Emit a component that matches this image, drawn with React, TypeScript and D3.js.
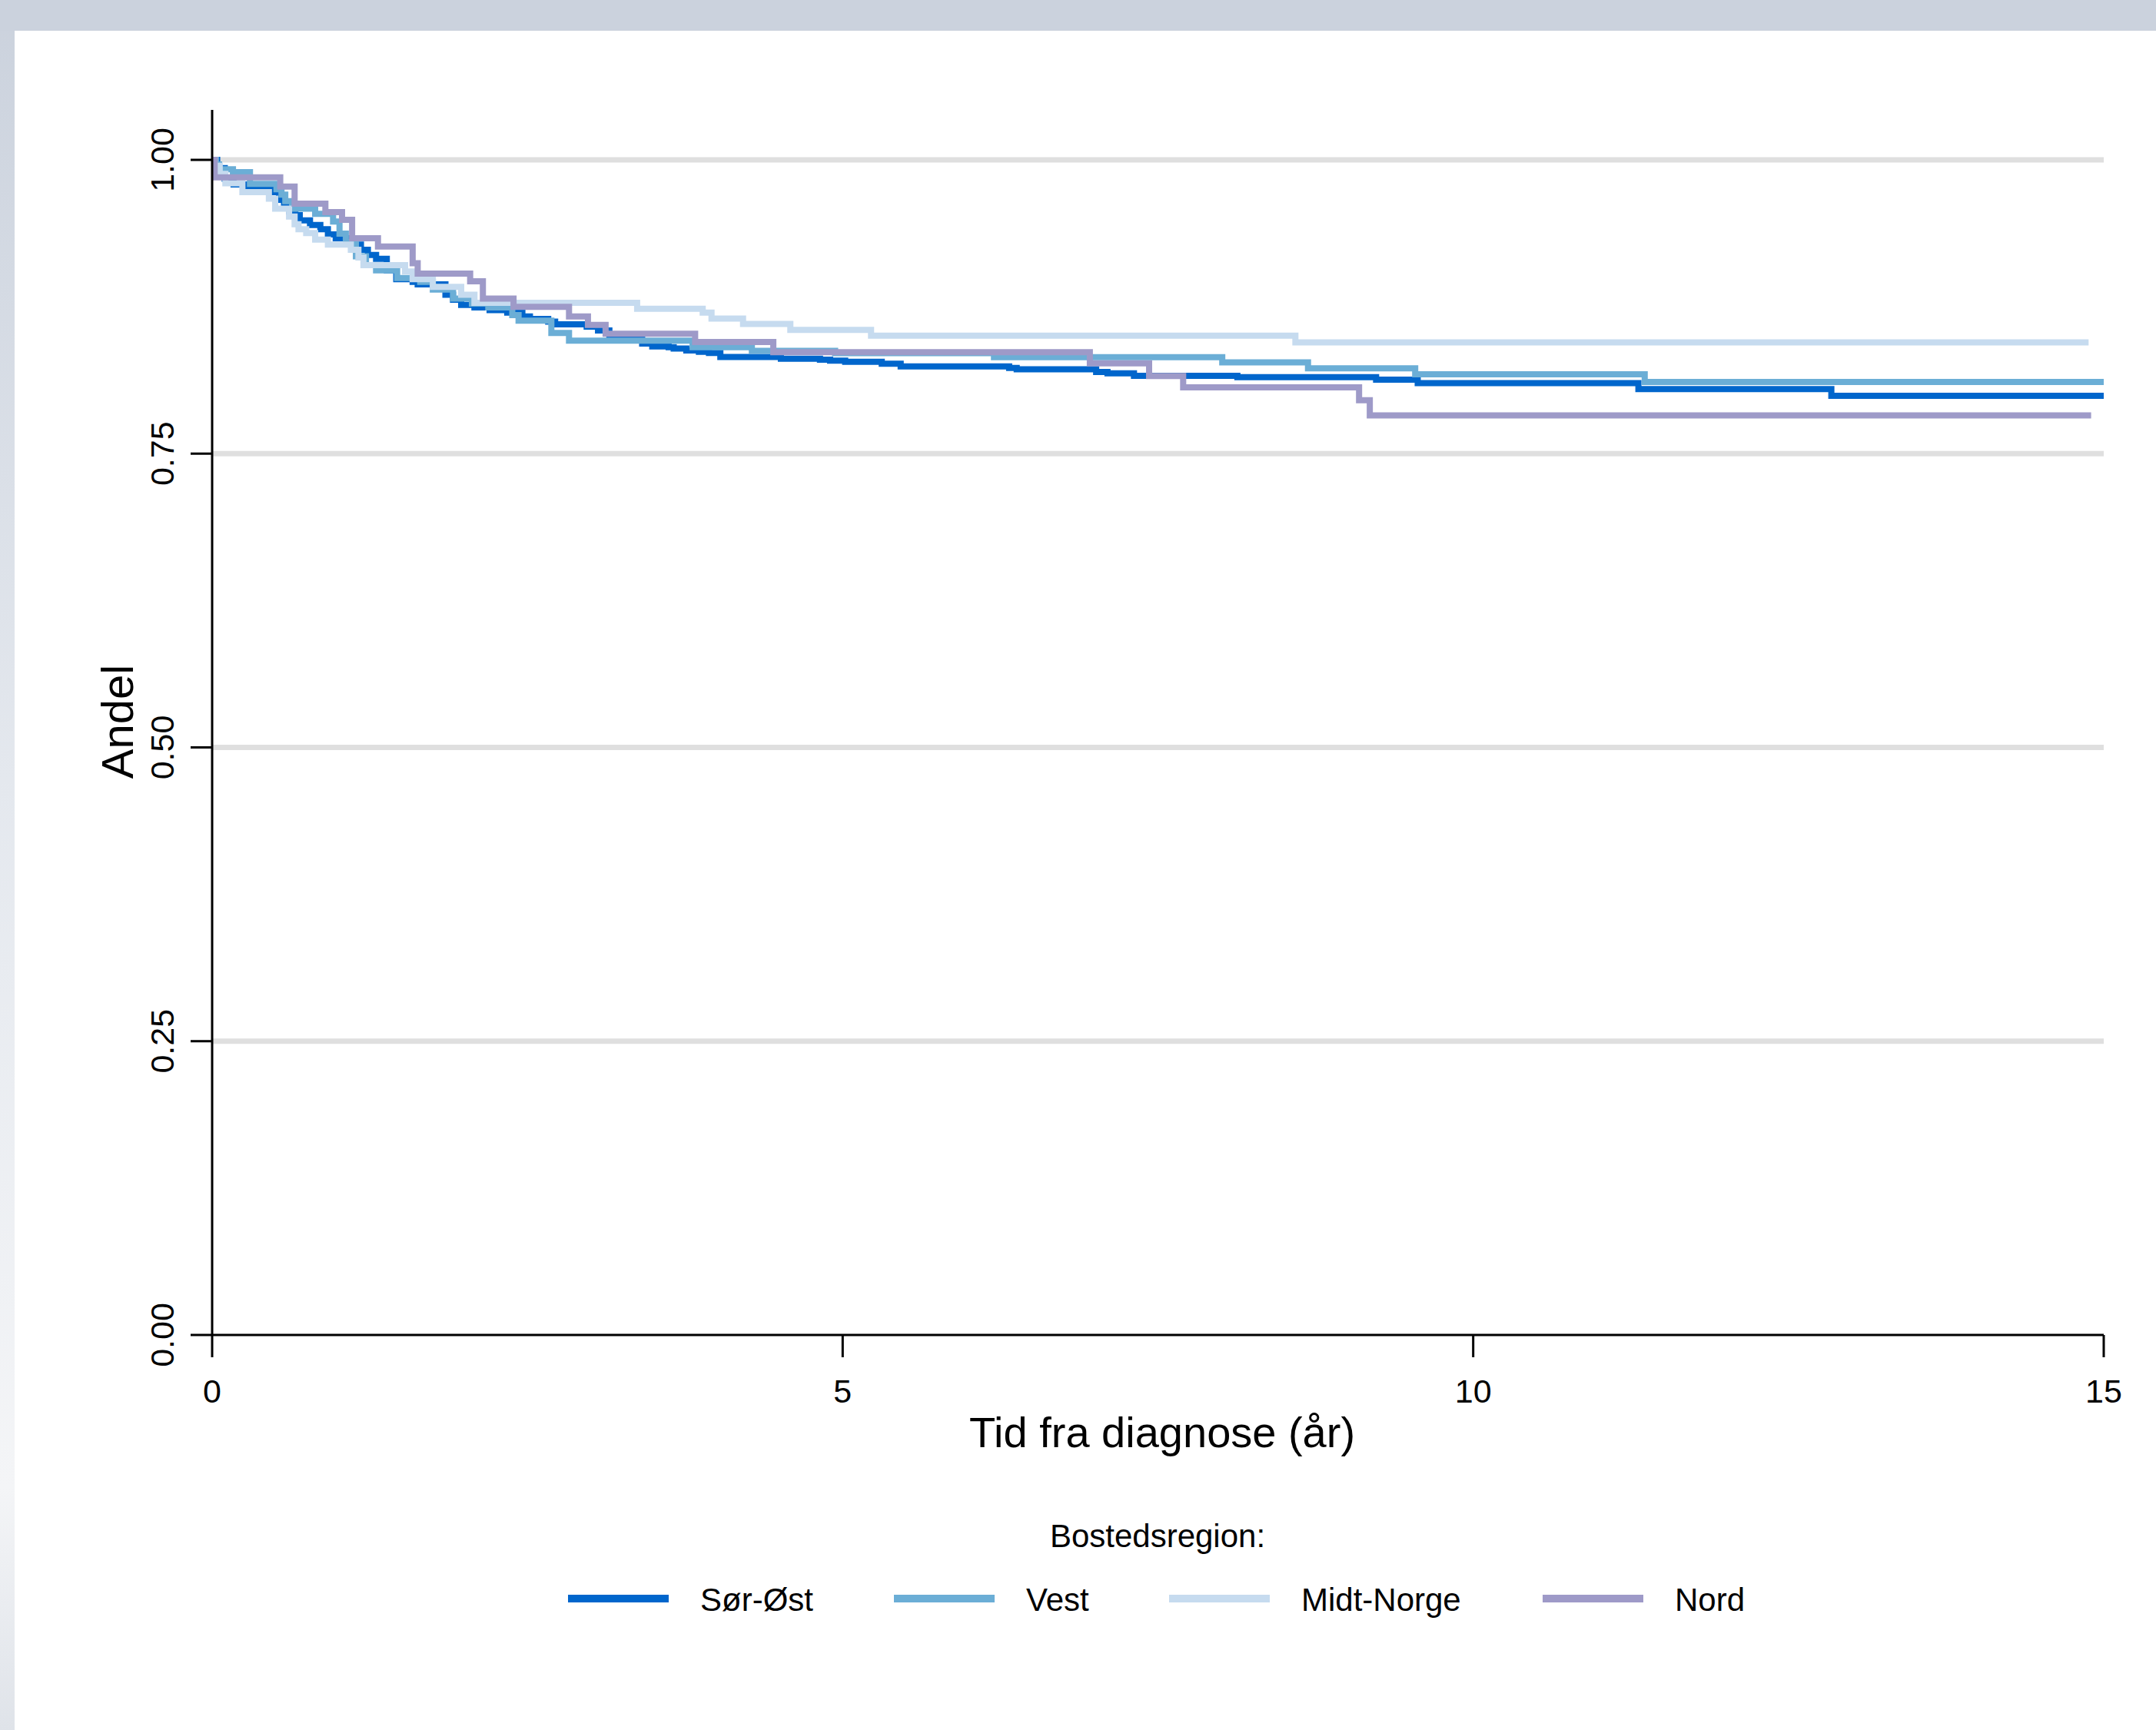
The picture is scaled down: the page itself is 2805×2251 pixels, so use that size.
import React from "react";
import * as d3 from "d3";

// ---------- data ----------
const seriesNames = ["Sør-Øst", "Vest", "Midt-Norge", "Nord"];
const seriesColors = ["#0066CC", "#6BAED6", "#C6DBEF", "#9E9AC8"];

const sorOstTime = [0, 0.04, 0.10, 0.17, 0.26, 0.47, 0.53, 0.57, 0.61, 0.66, 0.695, 0.776, 0.858, 0.918, 0.98, 1.13, 1.18, 1.235, 1.30, 1.385, 1.46, 1.59, 1.63, 1.85, 1.91, 1.975, 2.08, 2.20, 2.34, 2.46, 2.52, 2.665, 2.72, 2.97, 3.06, 3.15, 3.41, 3.49, 3.62, 3.66, 3.76, 3.86, 3.94, 4.03, 4.51, 4.82, 4.90, 5.02, 5.31, 5.46, 6.32, 6.38, 7.01, 7.10, 7.31, 8.13, 9.23, 9.56, 11.31, 12.84, 15];
const sorOstSurv = [1, 0.993, 0.984, 0.979, 0.9765, 0.9725, 0.966, 0.9616, 0.956, 0.9529, 0.9485, 0.9446, 0.941, 0.9366, 0.9333, 0.9279, 0.9235, 0.9191, 0.9158, 0.906, 0.8984, 0.8962, 0.894, 0.8853, 0.881, 0.8766, 0.8744, 0.8722, 0.870, 0.8668, 0.8646, 0.8624, 0.860, 0.858, 0.8548, 0.848, 0.8437, 0.8413, 0.8406, 0.8395, 0.8378, 0.8367, 0.8356, 0.8323, 0.8308, 0.830, 0.8291, 0.8282, 0.8265, 0.8243, 0.823, 0.8217, 0.8195, 0.8184, 0.8162, 0.8151, 0.8129, 0.810, 0.805, 0.7992, 0.7992];

const vestTime = [0, 0.03, 0.055, 0.165, 0.30, 0.51, 0.55, 0.58, 0.634, 0.817, 0.959, 1.01, 1.06, 1.14, 1.22, 1.30, 1.467, 1.65, 1.75, 1.91, 2.06, 2.19, 2.38, 2.43, 2.69, 2.83, 3.81, 4.28, 4.94, 6.20, 8.01, 8.69, 9.54, 11.36, 15];
const vestSurv = [1, 0.996, 0.992, 0.9895, 0.9795, 0.975, 0.9704, 0.9649, 0.9584, 0.954, 0.9475, 0.9372, 0.930, 0.918, 0.9104, 0.906, 0.8995, 0.8962, 0.8897, 0.882, 0.8777, 0.8744, 0.8679, 0.8631, 0.8527, 0.8461, 0.8406, 0.8375, 0.8355, 0.832, 0.8276, 0.8226, 0.8175, 0.811, 0.811];

const midtTime = [0, 0.02, 0.06, 0.105, 0.24, 0.45, 0.50, 0.61, 0.654, 0.685, 0.746, 0.817, 0.918, 1.10, 1.16, 1.20, 1.53, 1.59, 1.75, 1.975, 2.08, 3.37, 3.89, 3.96, 4.21, 4.585, 5.225, 8.59, 14.88];
const midtSurv = [1, 0.995, 0.988, 0.980, 0.9725, 0.967, 0.9584, 0.9518, 0.9453, 0.941, 0.9377, 0.9322, 0.9279, 0.9235, 0.917, 0.9104, 0.905, 0.8984, 0.8919, 0.8853, 0.8784, 0.8733, 0.870, 0.865, 0.8603, 0.8553, 0.8504, 0.8446, 0.8446];

const nordTime = [0, 0.02, 0.54, 0.654, 0.898, 1.03, 1.11, 1.315, 1.59, 1.63, 2.046, 2.147, 2.39, 2.83, 2.98, 3.12, 3.83, 4.45, 6.96, 7.43, 7.70, 9.095, 9.18, 14.90];
const nordSurv = [1, 0.9852, 0.9773, 0.9627, 0.9555, 0.949, 0.9333, 0.9263, 0.912, 0.9032, 0.8967, 0.882, 0.8749, 0.8668, 0.8596, 0.852, 0.845, 0.8363, 0.8269, 0.816, 0.8064, 0.7955, 0.7826, 0.7826];

const xTicks = [0, 5, 10, 15];
const yTicks = [0, 0.25, 0.5, 0.75, 1.0];
const yTickLabels = ["0.00", "0.25", "0.50", "0.75", "1.00"];
const xTitle = "Tid fra diagnose (år)";
const yTitle = "Andel";
const legendTitle = "Bostedsregion:";

const seriesTimes = [sorOstTime, vestTime, midtTime, nordTime];
const seriesSurvs = [sorOstSurv, vestSurv, midtSurv, nordSurv];

// ---------- layout ----------
const W = 2805;
const H = 2251;
const FONT = "'Liberation Sans', Arial, Helvetica, sans-serif";

export default function App() {
  const x = d3.scaleLinear().domain([0, 15]).range([276, 2737]);
  const y = d3.scaleLinear().domain([0, 1]).range([1737, 208]);
  const yTop = y(1.0425);

  const line = d3
    .line<[number, number]>()
    .x((d) => x(d[0]))
    .y((d) => y(d[1]))
    .curve(d3.curveStepAfter);

  const legendSwatchX = [739, 1163, 1521, 2007];
  const legendY = 2080;

  return (
    <svg
      width={W}
      height={H}
      style={{ position: "absolute", left: 0, top: 0, display: "block" }}
      xmlns="http://www.w3.org/2000/svg"
    >
      <defs>
        <linearGradient id="leftStrip" x1="0" y1="0" x2="0" y2="1">
          <stop offset="0" stopColor="#CBD2DD" />
          <stop offset="0.45" stopColor="#E4E8EE" />
          <stop offset="0.86" stopColor="#F4F5F7" />
          <stop offset="1" stopColor="#DFE3E9" />
        </linearGradient>
      </defs>
      <rect x={0} y={0} width={W} height={H} fill="#FFFFFF" />
      <rect x={0} y={0} width={19} height={H} fill="url(#leftStrip)" />
      <rect x={0} y={0} width={W} height={40} fill="#CBD2DD" />

      {/* grid */}
      {yTicks
        .filter((v) => v > 0)
        .map((v) => (
          <line
            key={"g" + v}
            x1={x(0)}
            x2={x(15)}
            y1={y(v)}
            y2={y(v)}
            stroke="#DFDFDF"
            strokeWidth={7}
          />
        ))}

      {/* curves */}
      {seriesNames.map((name, i) => {
        const pts: [number, number][] = seriesTimes[i].map((t, j) => [t, seriesSurvs[i][j]]);
        return (
          <path
            key={name}
            d={line(pts) || ""}
            fill="none"
            stroke={seriesColors[i]}
            strokeWidth={8}
            strokeLinejoin="miter"
          />
        );
      })}

      {/* axes */}
      <line x1={x(0)} x2={x(0)} y1={yTop} y2={y(0)} stroke="#000" strokeWidth={3} />
      <line x1={x(0)} x2={x(15)} y1={y(0)} y2={y(0)} stroke="#000" strokeWidth={3} />
      {yTicks.map((v, i) => (
        <g key={"yt" + v}>
          <line x1={x(0) - 28} x2={x(0)} y1={y(v)} y2={y(v)} stroke="#000" strokeWidth={3} />
          <text
            transform={`translate(226,${y(v)}) rotate(-90)`}
            textAnchor="middle"
            fontFamily={FONT}
            fontSize={43}
            fill="#000"
          >
            {yTickLabels[i]}
          </text>
        </g>
      ))}
      {xTicks.map((v) => (
        <g key={"xt" + v}>
          <line x1={x(v)} x2={x(v)} y1={y(0)} y2={y(0) + 29} stroke="#000" strokeWidth={3} />
          <text x={x(v)} y={1825} textAnchor="middle" fontFamily={FONT} fontSize={43} fill="#000">
            {v}
          </text>
        </g>
      ))}

      {/* axis titles */}
      <text x={1512} y={1883} textAnchor="middle" fontFamily={FONT} fontSize={56} fill="#000">
        {xTitle}
      </text>
      <text
        transform={`translate(173,939) rotate(-90)`}
        textAnchor="middle"
        fontFamily={FONT}
        fontSize={58}
        fill="#000"
      >
        {yTitle}
      </text>

      {/* legend */}
      <text x={1506} y={2013} textAnchor="middle" fontFamily={FONT} fontSize={42} fill="#000">
        {legendTitle}
      </text>
      {seriesNames.map((name, i) => (
        <g key={"lg" + name}>
          <line
            x1={legendSwatchX[i]}
            x2={legendSwatchX[i] + 131}
            y1={legendY}
            y2={legendY}
            stroke={seriesColors[i]}
            strokeWidth={10}
          />
          <text
            x={legendSwatchX[i] + 172}
            y={2096}
            fontFamily={FONT}
            fontSize={42}
            fill="#000"
          >
            {name}
          </text>
        </g>
      ))}
    </svg>
  );
}
